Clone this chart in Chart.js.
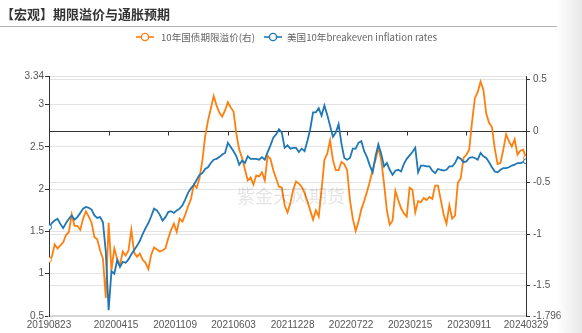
<!DOCTYPE html>
<html>
<head>
<meta charset="utf-8">
<script src="https://cdn.jsdelivr.net/npm/chart.js@4.4.0/dist/chart.umd.min.js"></script>
<style>
html,body{margin:0;padding:0;background:#fff;}
#wrap{position:relative;width:582px;height:333px;overflow:hidden;font-family:"Noto Sans CJK SC","Noto Sans",sans-serif;}
#c{position:absolute;left:0;top:0;}
#title{position:absolute;left:1px;top:5px;font-size:13px;font-weight:bold;color:#333;line-height:18px;white-space:nowrap;}
#rule{position:absolute;left:0;top:26px;width:557px;height:1px;background:#b3b3b3;}
.leg{position:absolute;top:30px;height:14px;line-height:14px;font-size:9.6px;color:#666;white-space:nowrap;}
.ico{position:absolute;top:32px;}
#wm{position:absolute;left:237px;top:184px;font-size:18px;line-height:22px;color:rgba(0,0,0,0.11);white-space:nowrap;}
#shade{position:absolute;left:556px;top:0;width:26px;height:333px;background:linear-gradient(to right,rgba(236,236,236,0),#e8e8e8);}
</style>
</head>
<body>
<div id="wrap">
<canvas id="c" width="582" height="333"></canvas>
<div id="title">【宏观】期限溢价与通胀预期</div>
<div id="rule"></div>
<svg class="ico" style="left:136px" width="18" height="10"><line x1="0" y1="5" x2="18" y2="5" stroke="#ff7f0e" stroke-width="1.6"/><circle cx="9" cy="5" r="3.6" fill="#fff" stroke="#ff7f0e" stroke-width="1.4"/></svg>
<div class="leg" id="leg1" style="left:161px"></div>
<svg class="ico" style="left:264px" width="18" height="10"><line x1="0" y1="5" x2="18" y2="5" stroke="#1f77b4" stroke-width="1.6"/><circle cx="9" cy="5" r="3.6" fill="#fff" stroke="#1f77b4" stroke-width="1.4"/></svg>
<div class="leg" id="leg2" style="left:287px"></div>
<div id="wm">紫金天风期货</div>
<div id="shade"></div>
</div>
<script>
// ---- data ----
const seriesNames = ['10年国债期限溢价(右)', '美国10年breakeven inflation rates'];
const tickLabels = ['20190823','20200415','20201109','20210603','20211228','20220722','20230215','20230911','20240329'];
const startDate = '20190823';
const stepDays = 10; // sampling interval of the series below
const leftTicks = [0.5, 1, 1.5, 2, 2.5, 3, 3.34];
const rightTicks = [-1.796, -1.5, -1, -0.5, 0, 0.5];
const rightMax = 0.535;

// 美国10年breakeven inflation rates (left axis)
const breakeven = [
1.55,1.60,1.63,1.65,1.59,1.54,1.60,1.65,1.69,1.64,
1.67,1.72,1.77,1.79,1.78,1.76,1.69,1.66,1.67,1.61,
1.26,0.57,1.03,1.00,1.16,1.08,1.14,1.13,1.17,1.23,
1.28,1.33,1.39,1.47,1.54,1.60,1.68,1.77,1.75,1.70,
1.63,1.67,1.73,1.74,1.72,1.75,1.77,1.81,1.88,1.96,
2.01,2.05,2.11,2.17,2.19,2.24,2.26,2.31,2.35,2.36,
2.38,2.41,2.43,2.55,2.50,2.45,2.39,2.29,2.34,2.31,
2.39,2.36,2.36,2.36,2.35,2.38,2.35,2.44,2.52,2.61,
2.65,2.71,2.67,2.49,2.52,2.48,2.49,2.49,2.44,2.48,
2.45,2.57,2.71,2.91,2.91,2.96,2.87,2.99,2.88,2.75,
2.62,2.67,2.77,2.54,2.37,2.35,2.37,2.48,2.48,2.55,
2.57,2.45,2.38,2.28,2.20,2.39,2.53,2.42,2.27,2.31,
2.23,2.17,2.22,2.23,2.21,2.30,2.36,2.40,2.44,2.49,
2.20,2.28,2.28,2.27,2.27,2.22,2.19,2.24,2.23,2.22,
2.23,2.27,2.27,2.31,2.38,2.36,2.32,2.33,2.37,2.38,
2.37,2.35,2.43,2.39,2.37,2.32,2.26,2.21,2.20,2.23,
2.25,2.25,2.26,2.28,2.29,2.31,2.31,2.32,2.33
];

// 10年国债期限溢价 (right axis)
const termPremium = [
-1.25,-1.22,-1.10,-1.14,-1.11,-1.08,-1.01,-0.98,-0.81,-0.92,
-0.92,-0.96,-0.85,-0.78,-0.83,-0.89,-1.03,-1.05,-1.16,-1.24,
-1.62,-0.89,-1.35,-1.14,-1.24,-1.30,-1.17,-1.21,-1.16,-0.96,
-1.18,-1.22,-1.19,-1.25,-1.28,-1.34,-1.20,-1.13,-1.15,-1.17,
-1.16,-1.14,-1.04,-0.96,-0.90,-0.98,-0.85,-0.88,-0.81,-0.73,
-0.66,-0.52,-0.55,-0.46,-0.29,-0.05,0.10,0.22,0.34,0.25,
0.18,0.14,0.20,0.28,0.23,0.19,-0.03,-0.18,-0.26,-0.37,
-0.48,-0.45,-0.52,-0.43,-0.44,-0.40,-0.48,-0.24,-0.27,-0.38,
-0.46,-0.54,-0.55,-0.72,-0.79,-0.70,-0.57,-0.49,-0.51,-0.54,
-0.60,-0.68,-0.77,-0.86,-0.77,-0.83,-0.57,-0.28,-0.22,-0.09,
-0.28,-0.38,-0.38,-0.30,-0.32,-0.38,-0.67,-0.85,-0.97,-0.88,
-0.76,-0.68,-0.59,-0.49,-0.37,-0.28,-0.16,-0.28,-0.51,-0.77,
-0.91,-0.87,-0.58,-0.67,-0.75,-0.80,-0.83,-0.55,-0.57,-0.79,
-0.68,-0.69,-0.65,-0.67,-0.64,-0.66,-0.53,-0.53,-0.67,-0.81,
-0.90,-0.72,-0.85,-0.82,-0.50,-0.46,-0.26,-0.23,-0.18,0.09,
0.32,0.38,0.48,0.40,0.17,0.08,0.04,-0.17,-0.32,-0.31,
-0.18,-0.03,-0.10,-0.15,-0.08,-0.23,-0.19,-0.18,-0.26
];

// ---- helpers ----
function dayOf(s){
  const t = Date.UTC(+s.slice(0,4), +s.slice(4,6)-1, +s.slice(6,8));
  const t0 = Date.UTC(+startDate.slice(0,4), +startDate.slice(4,6)-1, +startDate.slice(6,8));
  return Math.round((t - t0)/86400000);
}
const tickDays = tickLabels.map(dayOf);
const toPts = arr => arr.map((v,i) => ({x: i*stepDays, y: v}));

document.getElementById('leg1').textContent = seriesNames[0];
document.getElementById('leg2').textContent = seriesNames[1];

const axisFont = {family: '"Liberation Sans", Arial, sans-serif', size: 10};
const labelColor = '#555';

const zeroTicks = {
  id: 'zeroTicks',
  beforeDatasetsDraw(chart){
    const {ctx, scales:{x, y1}} = chart;
    const yy = Math.round(y1.getPixelForValue(0)) + 0.5;
    ctx.save();
    ctx.strokeStyle = '#333';
    ctx.lineWidth = 1;
    ctx.beginPath();
    for (let k = 0; k <= 8; k++) {
      const xx = Math.round(x.getPixelForValue(x.min + k*(x.max - x.min)/8)) + 0.5;
      ctx.moveTo(xx, yy);
      ctx.lineTo(xx, yy + 4);
    }
    ctx.stroke();
    ctx.restore();
  }
};

const endPoint = (n) => (c) => (c.dataIndex === 0 || c.dataIndex === n - 1) ? 2.5 : 0;

new Chart(document.getElementById('c'), {
  type: 'line',
  data: {
    datasets: [
      {
        label: seriesNames[1], data: toPts(breakeven), yAxisID: 'y',
        borderColor: '#1f77b4', borderWidth: 1.8, tension: 0,
        pointRadius: endPoint(breakeven.length), pointBackgroundColor: '#fff',
        pointBorderColor: '#1f77b4', pointBorderWidth: 1, order: 0
      },
      {
        label: seriesNames[0], data: toPts(termPremium), yAxisID: 'y1',
        borderColor: '#ff7f0e', borderWidth: 1.8, tension: 0,
        pointRadius: endPoint(termPremium.length), pointBackgroundColor: '#fff',
        pointBorderColor: '#ff7f0e', pointBorderWidth: 1, order: 1
      }
    ]
  },
  options: {
    responsive: false, animation: false, devicePixelRatio: 1,
    layout: {padding: {top: 76, left: 0, right: 0, bottom: 0}},
    plugins: {legend: {display: false}, tooltip: {enabled: false}, title: {display: false}},
    scales: {
      x: {
        type: 'linear', min: tickDays[0], max: tickDays[tickDays.length-1],
        afterBuildTicks: s => { s.ticks = tickDays.map(v => ({value: v})); },
        afterFit: s => { s.height = 17; },
        grid: {display: false, drawTicks: false, tickLength: 0},
        border: {color: '#d6d6d6', width: 2},
        ticks: {autoSkip: false, maxRotation: 0, minRotation: 0, padding: 3, color: labelColor, font: axisFont,
          callback: v => { const k = tickDays.indexOf(v); return k >= 0 ? tickLabels[k] : ''; }}
      },
      y: {
        position: 'left', min: leftTicks[0], max: leftTicks[leftTicks.length-1],
        afterBuildTicks: s => { s.ticks = leftTicks.map(v => ({value: v})); },
        afterFit: s => { s.width = 49; },
        grid: {color: '#e3e3e3', lineWidth: 1, tickColor: '#333', tickLength: 4},
        border: {color: '#333', width: 1},
        ticks: {padding: 1, color: labelColor, font: axisFont, callback: v => String(v)}
      },
      y1: {
        position: 'right', min: rightTicks[0], max: rightMax,
        afterBuildTicks: s => { s.ticks = rightTicks.map(v => ({value: v})); },
        afterFit: s => { s.width = 56; },
        grid: {color: c => (c.tick && c.tick.value === 0) ? '#333' : '#e3e3e3', lineWidth: 1, tickColor: '#333', tickLength: 4},
        border: {color: '#333', width: 1},
        ticks: {padding: 3, color: labelColor, font: axisFont, callback: v => String(v)}
      }
    }
  },
  plugins: [zeroTicks]
});
</script>
</body>
</html>
